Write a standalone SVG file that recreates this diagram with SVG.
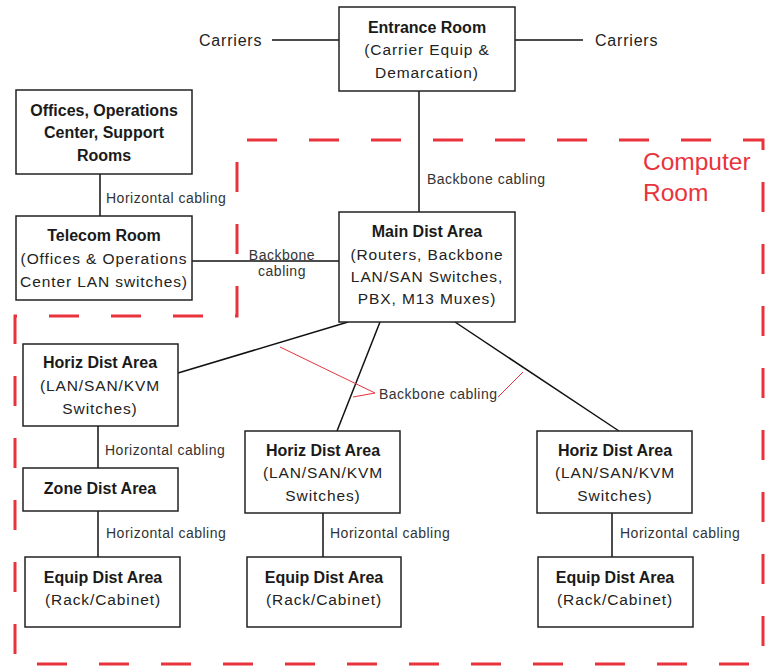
<svg xmlns="http://www.w3.org/2000/svg" width="768" height="669" viewBox="0 0 768 669">
<style>
.box{fill:#fff;stroke:#222;stroke-width:1.5}
.t{font-family:"Liberation Sans",Arial,sans-serif;font-size:16px;font-weight:bold;fill:#1a1a1a;text-anchor:middle}
.s{font-family:"Liberation Sans",Arial,sans-serif;font-size:15.5px;fill:#222;text-anchor:middle;letter-spacing:0.9px}
.l{font-family:"Liberation Sans",Arial,sans-serif;font-size:14px;fill:#333;letter-spacing:0.5px}
.c{font-family:"Liberation Sans",Arial,sans-serif;font-size:16px;fill:#222;letter-spacing:0.8px}
.ln{stroke:#111;stroke-width:1.5;fill:none}
.rd{stroke:#e8333d;stroke-width:1;fill:none}
.dash{fill:none;stroke:#e8333d;stroke-width:3;stroke-dasharray:30,32}
</style>
<rect width="768" height="669" fill="#fff"/>
<g id="computer-room">
<path class="dash" d="M237,316 L237,140 L763,140 L763,664 L15,664 L15,316 Z"/>
<text x="643" y="170" font-family="Liberation Sans,Arial,sans-serif" font-size="24.5" fill="#e8333d">Computer</text>
<text x="643" y="201" font-family="Liberation Sans,Arial,sans-serif" font-size="24.5" fill="#e8333d">Room</text>
</g>
<g id="connectors">
<line class="ln" x1="272" y1="40" x2="339" y2="40"/>
<line class="ln" x1="515" y1="40" x2="583" y2="40"/>
<line class="ln" x1="419" y1="91" x2="419" y2="212"/>
<line class="ln" x1="100" y1="174" x2="100" y2="216"/>
<line class="ln" x1="192" y1="261" x2="339" y2="261"/>
<line class="ln" x1="348" y1="322" x2="178" y2="373"/>
<line class="ln" x1="380" y1="322" x2="337" y2="431"/>
<line class="ln" x1="455" y1="322" x2="619" y2="431"/>
<line class="ln" x1="98" y1="426" x2="98" y2="468"/>
<line class="ln" x1="98" y1="511" x2="98" y2="557"/>
<line class="ln" x1="323" y1="513" x2="323" y2="557"/>
<line class="ln" x1="612" y1="513" x2="612" y2="557"/>
<polyline class="rd" points="280,347 375,393 353,397"/>
<line class="rd" x1="498" y1="397" x2="523" y2="372"/>
<text class="c" x="199" y="46">Carriers</text>
<text class="c" x="595" y="46">Carriers</text>
<text class="l" x="427" y="184">Backbone cabling</text>
<text class="l" x="106" y="203">Horizontal cabling</text>
<text class="l" x="282" y="260" text-anchor="middle">Backbone</text>
<text class="l" x="282" y="276" text-anchor="middle">cabling</text>
<text class="l" x="379" y="399">Backbone cabling</text>
<text class="l" x="105" y="455">Horizontal cabling</text>
<text class="l" x="106" y="538">Horizontal cabling</text>
<text class="l" x="330" y="538">Horizontal cabling</text>
<text class="l" x="620" y="538">Horizontal cabling</text>
</g>
<g id="entrance-room">
<rect class="box" x="339" y="7" width="176" height="84"/>
<text class="t" x="427" y="33">Entrance Room</text>
<text class="s" x="427" y="55">(Carrier Equip &amp;</text>
<text class="s" x="427" y="78">Demarcation)</text>
</g>
<g id="offices">
<rect class="box" x="16" y="90" width="176" height="84"/>
<text class="t" x="104" y="116">Offices, Operations</text>
<text class="t" x="104" y="138">Center, Support</text>
<text class="t" x="104" y="161">Rooms</text>
</g>
<g id="telecom-room">
<rect class="box" x="16" y="216" width="176" height="84"/>
<text class="t" x="104" y="241">Telecom Room</text>
<text class="s" x="104" y="264">(Offices &amp; Operations</text>
<text class="s" x="104" y="287">Center LAN switches)</text>
</g>
<g id="main-dist-area">
<rect class="box" x="339" y="212" width="176" height="110"/>
<text class="t" x="427" y="237">Main Dist Area</text>
<text class="s" x="427" y="260">(Routers, Backbone</text>
<text class="s" x="427" y="282">LAN/SAN Switches,</text>
<text class="s" x="427" y="304">PBX, M13 Muxes)</text>
</g>
<g id="horiz-dist-area-1">
<rect class="box" x="23" y="344" width="155" height="82"/>
<text class="t" x="100" y="368">Horiz Dist Area</text>
<text class="s" x="100" y="391">(LAN/SAN/KVM</text>
<text class="s" x="100" y="414">Switches)</text>
</g>
<g id="zone-dist-area">
<rect class="box" x="23" y="468" width="155" height="43"/>
<text class="t" x="100" y="494">Zone Dist Area</text>
</g>
<g id="equip-dist-area-1">
<rect class="box" x="25" y="557" width="155" height="70"/>
<text class="t" x="103" y="583">Equip Dist Area</text>
<text class="s" x="103" y="605">(Rack/Cabinet)</text>
</g>
<g id="horiz-dist-area-2">
<rect class="box" x="245" y="431" width="155" height="82"/>
<text class="t" x="323" y="456">Horiz Dist Area</text>
<text class="s" x="323" y="478">(LAN/SAN/KVM</text>
<text class="s" x="323" y="501">Switches)</text>
</g>
<g id="equip-dist-area-2">
<rect class="box" x="247" y="557" width="154" height="70"/>
<text class="t" x="324" y="583">Equip Dist Area</text>
<text class="s" x="324" y="605">(Rack/Cabinet)</text>
</g>
<g id="horiz-dist-area-3">
<rect class="box" x="537" y="431" width="155" height="82"/>
<text class="t" x="615" y="456">Horiz Dist Area</text>
<text class="s" x="615" y="478">(LAN/SAN/KVM</text>
<text class="s" x="615" y="501">Switches)</text>
</g>
<g id="equip-dist-area-3">
<rect class="box" x="538" y="557" width="155" height="70"/>
<text class="t" x="615" y="583">Equip Dist Area</text>
<text class="s" x="615" y="605">(Rack/Cabinet)</text>
</g>
</svg>
